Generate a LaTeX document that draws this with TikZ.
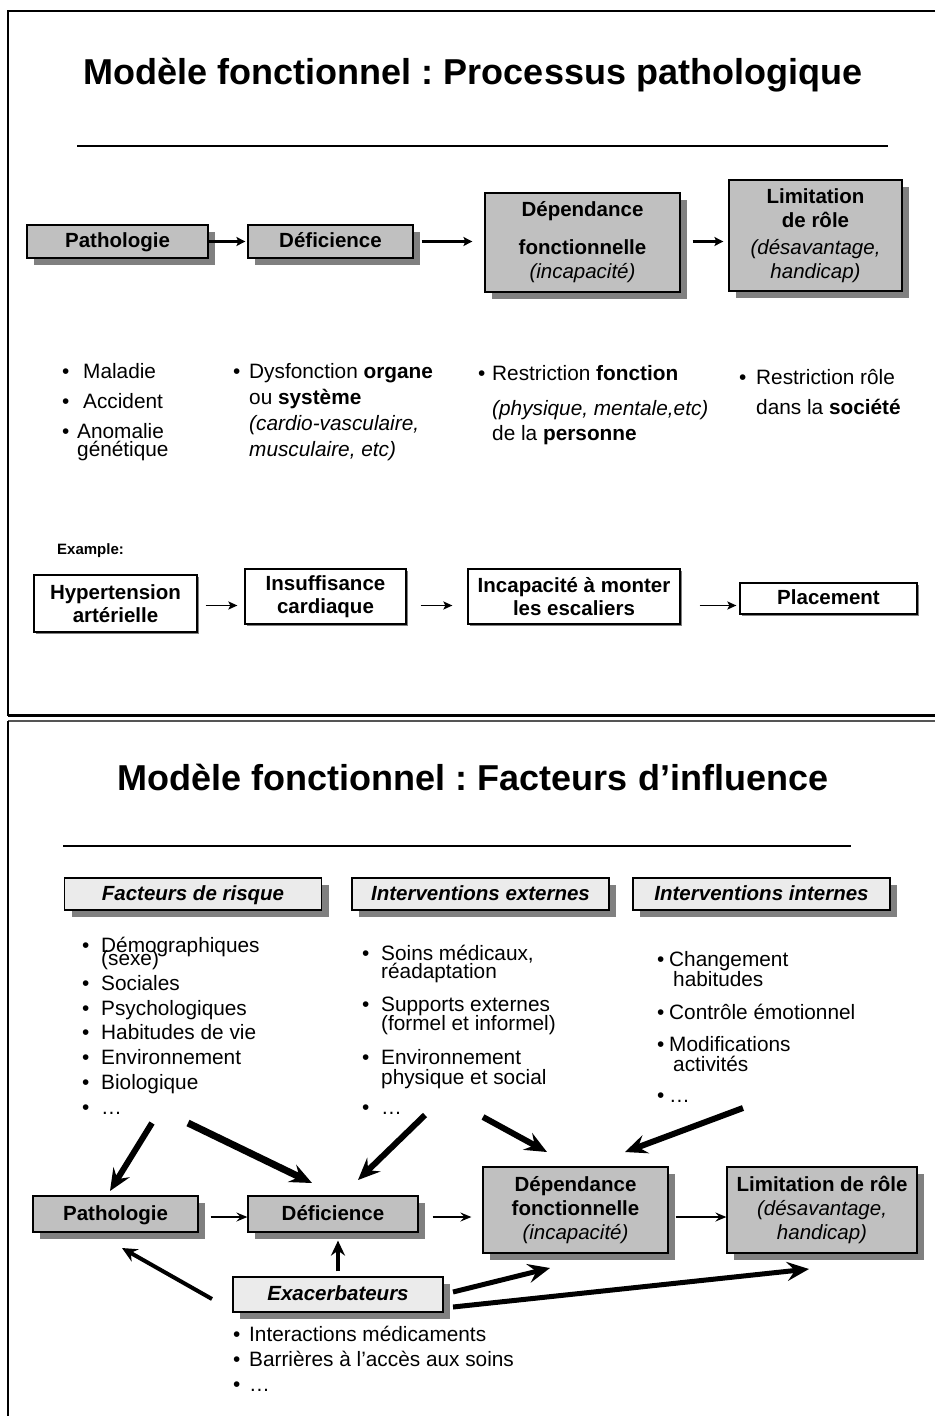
\documentclass[tikz,border=0pt]{standalone}
\usepackage{fontspec}
\setmainfont{Liberation Sans}
\usetikzlibrary{arrows.meta,shadows}
\frenchspacing
\definecolor{boxgray}{HTML}{C0C0C0}
\definecolor{lightbox}{HTML}{EBEBEB}
\definecolor{shadgray}{HTML}{808080}
\definecolor{framegray}{HTML}{555555}
\tikzset{
  lbl/.style={font=\fontsize{20.8}{24}\selectfont, inner sep=0pt, text height=14pt, text depth=4pt, anchor=west},
  ttl/.style={font=\bfseries\fontsize{36}{40}\selectfont, inner sep=0pt, text height=26pt, text depth=8pt, anchor=center},
  gbox/.style={draw=black, line width=1.2pt, fill=boxgray, inner sep=0pt, align=center,
    font=\bfseries\fontsize{20.5}{24}\selectfont,
    drop shadow={shadow xshift=7pt, shadow yshift=-7pt, opacity=1, fill=shadgray, draw=none}},
  lbox/.style={gbox, fill=lightbox, font=\bfseries\itshape\fontsize{20.5}{24}\selectfont},
  wbox/.style={draw=black, line width=1.2pt, fill=white, inner sep=0pt, align=center,
    font=\bfseries\fontsize{20.5}{23}\selectfont,
    drop shadow={shadow xshift=2pt, shadow yshift=-2pt, opacity=1, fill=shadgray, draw=none}},
  oneline/.style={text height=15pt, text depth=3pt},
  sarrow/.style={line width=2.4pt, -{Stealth[length=9pt,width=9pt,inset=2pt]}},
  earrow/.style={line width=1.8pt, -{Stealth[length=9pt,width=8pt,inset=2pt]}},
  marrow/.style={line width=1.8pt, -{Stealth[length=11pt,width=9pt,inset=4pt]}},
  barrow/.style={line width=#1, -{Stealth[length=22pt,width=19pt,inset=8pt]}},
  barrow/.default=6pt,
  narrow/.style={line width=#1, -{Stealth[length=15pt,width=14pt,inset=5pt]}},
  narrow/.default=4pt,
}
\begin{document}
\begin{tikzpicture}[x=1pt,y=-1pt]
\useasboundingbox[fill=white] (0,0) rectangle (935,1416);

% ---------- frames ----------
\draw[line width=1.2pt] (935,11) -- (8,11) -- (8,716);
\draw[line width=2.4pt] (8,715.5) -- (935,715.5);
\draw[line width=2pt, framegray] (8,720.5) -- (935,720.5);
\draw[line width=1.2pt] (8,720.5) -- (8,1416);

% ================= TOP SLIDE =================
\node[ttl] (title1) at (473,75) {Modèle fonctionnel : Processus pathologique};
\draw[line width=1.5pt] (77,146) -- (888,146);

\node[gbox, oneline, minimum width=181pt, minimum height=33pt] (P1) at (117.5,241.5) {Pathologie};
\node[gbox, oneline, minimum width=165pt, minimum height=33pt] (D1) at (330.5,241.5) {Déficience};
\node[gbox, minimum width=195pt, minimum height=99pt] (Dep1) at (582.5,242.5)
  {Dépendance\\[14pt]fonctionnelle\\{\mdseries\itshape (incapacité)}};
\node[gbox, minimum width=173pt, minimum height=111pt] (L1) at (815.5,235.5)
  {Limitation\\de rôle\\[3pt]{\mdseries\itshape (désavantage,}\\{\mdseries\itshape handicap)}};

\draw[sarrow] (P1.east) -- ([xshift=-2pt]D1.west);
\draw[sarrow] ([xshift=8pt]D1.east) -- ([xshift=-12pt]Dep1.west |- D1.east);
\draw[sarrow] ([xshift=12pt]Dep1.east |- D1.east) -- ([xshift=-5pt]L1.west |- D1.east);

% bullets top
\node[lbl] (tb1) at (62,373) {•};  \node[lbl] (tt1) at (83,373) {Maladie};
\node[lbl] (tb2) at (62,403) {•};  \node[lbl] (tt2) at (83,403) {Accident};
\node[lbl] (tb3) at (62,433) {•};  \node[lbl] (tt3) at (77,433) {Anomalie};
\node[lbl] (tt3b) at (77,451) {génétique};

\node[lbl] (tb4) at (233,373) {•}; \node[lbl] (tt4) at (249,373) {Dysfonction \textbf{organe}};
\node[lbl] (tt4b) at (249,399) {ou \textbf{système}};
\node[lbl] (tt4c) at (249,425) {\itshape (cardio-vasculaire,};
\node[lbl] (tt4d) at (249,451) {\itshape musculaire, etc)};

\node[lbl] (tb5) at (478,375) {•}; \node[lbl] (tt5) at (492,375) {Restriction \textbf{fonction}};
\node[lbl] (tt5b) at (492,410) {\itshape (physique, mentale,etc)};
\node[lbl] (tt5c) at (492,435) {de la \textbf{personne}};

\node[lbl] (tb6) at (739,379) {•}; \node[lbl] (tt6) at (756,379) {Restriction rôle};
\node[lbl] (tt6b) at (756,409) {dans la \textbf{société}};

% example
\node[lbl, font=\bfseries\fontsize{15}{18}\selectfont] (ex) at (57,549) {Example:};
\node[wbox, minimum width=163pt, minimum height=57pt] (H) at (115.5,603.5) {Hypertension\\artérielle};
\node[wbox, minimum width=161pt, minimum height=55pt] (I) at (325.5,596.5) {Insuffisance\\cardiaque};
\node[wbox, minimum width=212pt, minimum height=55pt] (Inc) at (574,596.5) {Incapacité à monter\\les escaliers};
\node[wbox, oneline, minimum width=177pt, minimum height=31pt] (Pl) at (828.5,598.5) {Placement};
\coordinate (erow) at ([yshift=-2pt]H.east);

\draw[earrow] ([xshift=8pt]H.east |- erow) -- ([xshift=-7pt]I.west |- erow);
\draw[earrow] ([xshift=14pt]I.east |- erow) -- ([xshift=-15pt]Inc.west |- erow);
\draw[earrow] ([xshift=19pt]Inc.east |- erow) -- ([xshift=-3pt]Pl.west |- erow);

% ================= BOTTOM SLIDE =================
\node[ttl] (title2) at (473,781) {Modèle fonctionnel : Facteurs d’influence};
\draw[line width=1.2pt] (63,846) -- (851,846);

\node[lbox, oneline, minimum width=257pt, minimum height=32pt] (FR) at (193,894) {Facteurs de risque};
\node[lbox, oneline, minimum width=257pt, minimum height=32pt] (IE) at (480.5,894) {Interventions externes};
\node[lbox, oneline, minimum width=257pt, minimum height=32pt] (II) at (761.5,894) {Interventions internes};

% column 1
\node[lbl] (rb1) at (82,947) {•}; \node[lbl] (rt1) at (101,947) {Démographiques};
\node[lbl] (rt1b) at (101,960) {(sexe)};
\node[lbl] (rb2) at (82,985) {•}; \node[lbl] (rt2) at (101,985) {Sociales};
\node[lbl] (rb3) at (82,1010) {•}; \node[lbl] (rt3) at (101,1010) {Psychologiques};
\node[lbl] (rb4) at (82,1034) {•}; \node[lbl] (rt4) at (101,1034) {Habitudes de vie};
\node[lbl] (rb5) at (82,1059) {•}; \node[lbl] (rt5) at (101,1059) {Environnement};
\node[lbl] (rb6) at (82,1084) {•}; \node[lbl] (rt6) at (101,1084) {Biologique};
\node[lbl] (rb7) at (82,1109) {•}; \node[lbl] (rt7) at (101,1109) {…};

% column 2
\node[lbl] (eb1) at (362,955) {•}; \node[lbl] (et1) at (381,955) {Soins médicaux,};
\node[lbl] (et1b) at (381,973) {réadaptation};
\node[lbl] (eb2) at (362,1006) {•}; \node[lbl] (et2) at (381,1006) {Supports externes};
\node[lbl] (et2b) at (381,1025) {(formel et informel)};
\node[lbl] (eb3) at (362,1059) {•}; \node[lbl] (et3) at (381,1059) {Environnement};
\node[lbl] (et3b) at (381,1079) {physique et social};
\node[lbl] (eb4) at (362,1109) {•}; \node[lbl] (et4) at (381,1109) {…};

% column 3
\node[lbl] (ib1) at (657,961) {•}; \node[lbl] (it1) at (669,961) {Changement};
\node[lbl] (it1b) at (673,981) {habitudes};
\node[lbl] (ib2) at (657,1014) {•}; \node[lbl] (it2) at (669,1014) {Contrôle émotionnel};
\node[lbl] (ib3) at (657,1046) {•}; \node[lbl] (it3) at (669,1046) {Modifications};
\node[lbl] (it3b) at (673,1066) {activités};
\node[lbl] (ib4) at (657,1097) {•}; \node[lbl] (it4) at (669,1097) {…};

% main boxes
\node[gbox, oneline, minimum width=165pt, minimum height=36pt] (P2) at (115.5,1214) {Pathologie};
\node[gbox, oneline, minimum width=170pt, minimum height=36pt] (D2) at (333,1214) {Déficience};
\node[gbox, minimum width=185pt, minimum height=86pt] (Dep2) at (575.5,1210)
  {Dépendance\\fonctionnelle\\{\mdseries\itshape (incapacité)}};
\node[gbox, minimum width=190pt, minimum height=86pt] (L2) at (822,1210)
  {Limitation de rôle\\{\mdseries\itshape (désavantage,}\\{\mdseries\itshape handicap)}};
\node[lbox, oneline, minimum width=210pt, minimum height=35pt] (Exa) at (338,1294.5) {Exacerbateurs};
\coordinate (brow) at ([yshift=-3pt]D2.east);

\draw[marrow] ([xshift=12pt]P2.east |- brow) -- (D2.west |- brow);
\draw[marrow] ([xshift=14pt]D2.east |- brow) -- ([xshift=-11pt]Dep2.west |- brow);
\draw[marrow] ([xshift=7pt]Dep2.east |- brow) -- (L2.west |- brow);

% exacerbateurs list
\node[lbl] (xb1) at (233,1336) {•}; \node[lbl] (xt1) at (249,1336) {Interactions médicaments};
\node[lbl] (xb2) at (233,1361) {•}; \node[lbl] (xt2) at (249,1361) {Barrières à l’accès aux soins};
\node[lbl] (xb3) at (233,1386) {•}; \node[lbl] (xt3) at (249,1386) {…};

% thick influence arrows
\coordinate (aS) at (152,1123); \coordinate (aE) at (110,1191);
\coordinate (bS) at (188,1123); \coordinate (bE) at (312,1183);
\coordinate (cS) at (425,1115); \coordinate (cE) at (358,1180);
\coordinate (dS) at (483,1117); \coordinate (dE) at (547,1152);
\coordinate (eS) at (743,1108); \coordinate (eE) at (625,1152);
\coordinate (fS) at (453,1292); \coordinate (fE) at (550,1268);
\coordinate (gS) at (453,1307); \coordinate (gE) at (809,1269);
\coordinate (hS) at (212,1299); \coordinate (hE) at (122,1248);

\draw[barrow] (aS) -- (aE);
\draw[barrow=7pt] (bS) -- (bE);
\draw[barrow] (cS) -- (cE);
\draw[barrow] (dS) -- (dE);
\draw[barrow] (eS) -- (eE);
\draw[barrow=5pt] (fS) -- (fE);
\draw[barrow=5pt] (gS) -- (gE);
\draw[narrow] (hS) -- (hE);
\draw[narrow] ([yshift=5pt]Exa.north) -- ([yshift=-8pt]D2.south -| Exa.north);
\end{tikzpicture}
\end{document}
